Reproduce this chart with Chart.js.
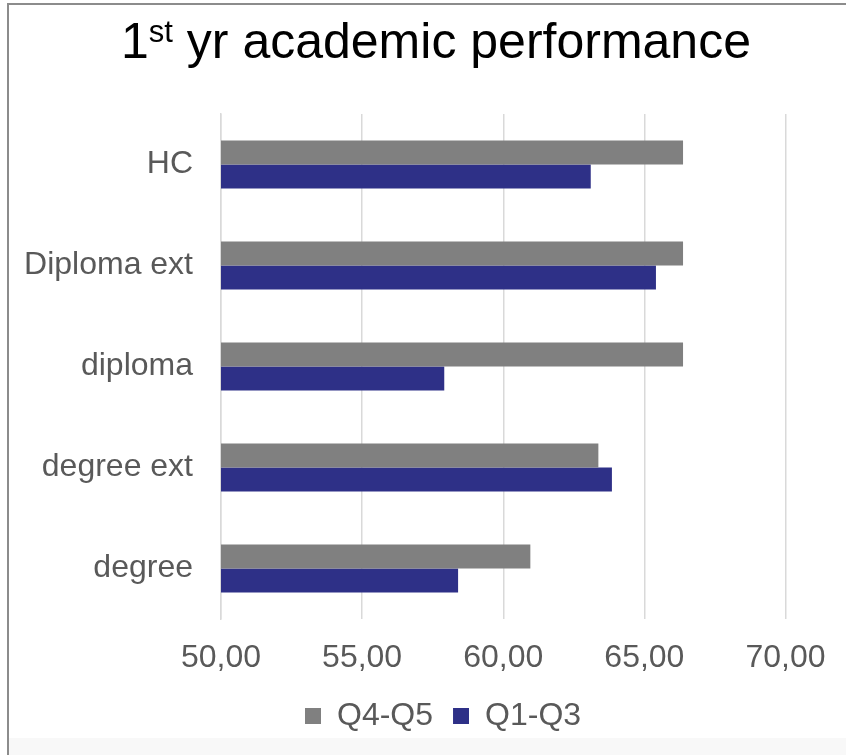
<!DOCTYPE html>
<html>
<head>
<meta charset="utf-8">
<script src="https://cdn.jsdelivr.net/npm/chart.js"></script>
<style>
    html, body { margin: 0; padding: 0; background: #fff; }
    canvas { display: block; }
</style>
</head>
<body>
<canvas id="ChartPerformance" width="846" height="755"></canvas>
<script>
var categories = ['HC', 'Diploma ext', 'diploma', 'degree ext', 'degree'];
var seriesNames = ['Q4-Q5', 'Q1-Q3'];
var q4q5 = [66.37, 66.37, 66.37, 63.37, 60.96];
var q1q3 = [63.10, 65.41, 57.91, 63.85, 58.40];
var xTicks = [50, 55, 60, 65, 70];

var fontFamily = "'Liberation Sans', Arial, sans-serif";
var textColor = '#595959';
var gridColor = '#d9d9d9';

Chart.defaults.font.family = fontFamily;

// white page, grey frame on the left and top, faint strip at the bottom
var framePlugin = {
    id: 'frame',
    beforeDraw: function (chart) {
        var ctx = chart.ctx;
        ctx.save();
        ctx.fillStyle = '#ffffff';
        ctx.fillRect(0, 0, chart.width, chart.height);
        ctx.fillStyle = '#f8f8f8';
        ctx.fillRect(9, 738, chart.width - 9, chart.height - 738);
        ctx.strokeStyle = '#8c8c8c';
        ctx.lineWidth = 2;
        ctx.beginPath();
        ctx.moveTo(8, chart.height);
        ctx.lineTo(8, 4);
        ctx.lineTo(chart.width, 4);
        ctx.stroke();
        ctx.restore();
    }
};

// title with a superscript "st"
var titlePlugin = {
    id: 'titleSup',
    afterDraw: function (chart) {
        var ctx = chart.ctx;
        var big = '50px ' + fontFamily;
        var small = '31px ' + fontFamily;
        var parts = [
            { text: '1', font: big, dy: 0 },
            { text: 'st', font: small, dy: -16 },
            { text: ' yr academic performance', font: big, dy: 0 }
        ];
        ctx.save();
        ctx.fillStyle = '#000000';
        ctx.textBaseline = 'alphabetic';
        ctx.textAlign = 'left';
        var total = 0;
        parts.forEach(function (p) {
            ctx.font = p.font;
            p.w = ctx.measureText(p.text).width;
            total += p.w;
        });
        var x = 436 - total / 2;
        parts.forEach(function (p) {
            ctx.font = p.font;
            ctx.fillText(p.text, x, 58 + p.dy);
            x += p.w;
        });
        ctx.restore();
    }
};

// move the legend row under the middle of the picture
var legendShift = {
    id: 'legendShift',
    afterLayout: function (chart) {
        chart.legend.left = 285;
        chart.legend.right = 846;
    }
};

new Chart(document.getElementById('ChartPerformance'), {
    type: 'bar',
    data: {
        labels: categories,
        datasets: [
            {
                label: seriesNames[0],
                data: q4q5,
                backgroundColor: '#808080',
                borderWidth: 0
            },
            {
                label: seriesNames[1],
                data: q1q3,
                backgroundColor: '#2e3087',
                borderWidth: 0
            }
        ]
    },
    options: {
        indexAxis: 'y',
        responsive: false,
        animation: false,
        devicePixelRatio: 1,
        categoryPercentage: 0.475,
        barPercentage: 1.0,
        layout: {
            padding: { top: 114, right: 60.5, bottom: 13, left: 0 }
        },
        scales: {
            x: {
                min: xTicks[0],
                max: xTicks[xTicks.length - 1],
                afterBuildTicks: function (scale) {
                    scale.ticks = xTicks.map(function (v) { return { value: v }; });
                },
                afterFit: function (scale) { scale.height = 61; },
                grid: {
                    color: gridColor,
                    lineWidth: 1.5,
                    drawTicks: false
                },
                border: { display: false },
                ticks: {
                    color: textColor,
                    padding: 20,
                    maxRotation: 0,
                    font: { size: 32 },
                    callback: function (value) {
                        return Number(value).toFixed(2).replace('.', ',');
                    }
                }
            },
            y: {
                afterFit: function (scale) { scale.width = 221; },
                grid: { display: false, drawTicks: false },
                border: { display: true, color: gridColor, width: 1.5 },
                ticks: {
                    color: textColor,
                    padding: 28,
                    font: { size: 32 }
                }
            }
        },
        plugins: {
            legend: {
                position: 'bottom',
                align: 'start',
                labels: {
                    color: textColor,
                    boxWidth: 16,
                    boxHeight: 16,
                    padding: 20,
                    font: { size: 32 }
                }
            },
            title: { display: false },
            tooltip: { enabled: false }
        }
    },
    plugins: [framePlugin, titlePlugin, legendShift]
});
</script>
</body>
</html>
